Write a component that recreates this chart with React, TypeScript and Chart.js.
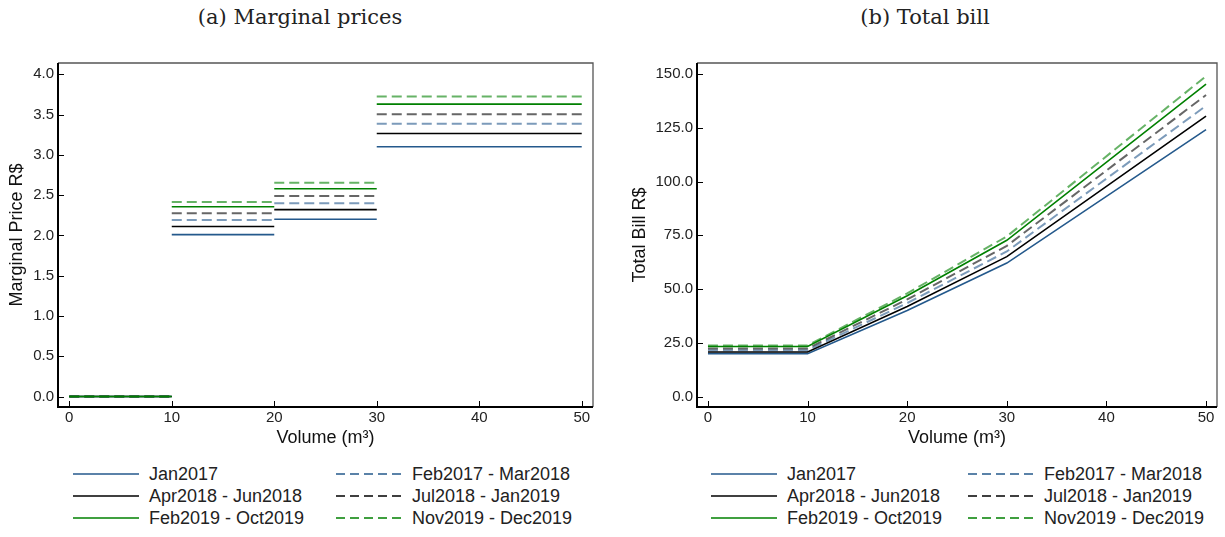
import React, { useEffect, useRef } from "react";
import { Chart, registerables } from "chart.js";

Chart.register(...registerables);

// ---------- data ----------
const seriesNames = [
  "Jan2017",
  "Feb2017 - Mar2018",
  "Apr2018 - Jun2018",
  "Jul2018 - Jan2019",
  "Feb2019 - Oct2019",
  "Nov2019 - Dec2019",
];

// Volume block edges (m³) for the marginal price steps
const blockEdges = [0, 10, 20, 30, 50];

// Marginal price per block (R$/m³)
const priceJan2017 = [0, 2.01, 2.2, 3.1];
const priceFeb2017Mar2018 = [0, 2.19, 2.4, 3.385];
const priceApr2018Jun2018 = [0, 2.11, 2.32, 3.265];
const priceJul2018Jan2019 = [0, 2.275, 2.49, 3.505];
const priceFeb2019Oct2019 = [0, 2.355, 2.58, 3.63];
const priceNov2019Dec2019 = [0, 2.415, 2.655, 3.725];

// Total bill (R$) at these volumes
const billVolumes = [0, 10, 20, 30, 50];
const billJan2017 = [20.0, 20.0, 40.1, 62.1, 124.1];
const billFeb2017Mar2018 = [21.6, 21.6, 43.5, 67.5, 135.2];
const billApr2018Jun2018 = [20.8, 20.8, 41.9, 65.1, 130.4];
const billJul2018Jan2019 = [22.4, 22.4, 45.2, 70.1, 140.2];
const billFeb2019Oct2019 = [23.3, 23.3, 46.9, 72.7, 145.3];
const billNov2019Dec2019 = [23.8, 23.8, 48.0, 74.5, 149.0];

// Tick labels
const volumeTicks = [0, 10, 20, 30, 40, 50];
const priceTicks = [0, 0.5, 1, 1.5, 2, 2.5, 3, 3.5, 4];
const billTicks = [0, 25, 50, 75, 100, 125, 150];

const priceSeries = [
  priceJan2017,
  priceFeb2017Mar2018,
  priceApr2018Jun2018,
  priceJul2018Jan2019,
  priceFeb2019Oct2019,
  priceNov2019Dec2019,
];
const billSeries = [
  billJan2017,
  billFeb2017Mar2018,
  billApr2018Jun2018,
  billJul2018Jan2019,
  billFeb2019Oct2019,
  billNov2019Dec2019,
];

// ---------- styles ----------
const BLUE = "36,89,140";
const BLACK = "0,0,0";
const GREEN = "0,128,0";
const seriesStyle = [
  { rgb: BLUE, dashed: false },
  { rgb: BLUE, dashed: true },
  { rgb: BLACK, dashed: false },
  { rgb: BLACK, dashed: true },
  { rgb: GREEN, dashed: false },
  { rgb: GREEN, dashed: true },
];

const SANS = "'Liberation Sans', Arial, sans-serif";
const SERIF = "'DejaVu Serif', 'Liberation Serif', serif";

function lineColor(i: number) {
  const s = seriesStyle[i];
  return s.dashed ? `rgba(${s.rgb},0.6)` : `rgb(${s.rgb})`;
}

function buildStepData(prices: number[]) {
  const pts: { x: number; y: number | null }[] = [];
  for (let k = 0; k < prices.length; k++) {
    if (k > 0) pts.push({ x: blockEdges[k], y: null });
    pts.push({ x: blockEdges[k], y: prices[k] });
    pts.push({ x: blockEdges[k + 1], y: prices[k] });
  }
  return pts;
}

function buildLineData(values: number[]) {
  return values.map((v, k) => ({ x: billVolumes[k], y: v }));
}

const frameTicksPlugin = {
  id: "frameTicks",
  afterDatasetsDraw(chart: any) {
    const { ctx, chartArea, scales } = chart;
    const { left, right, top, bottom } = chartArea;
    ctx.save();
    ctx.strokeStyle = "#000";
    ctx.lineWidth = 1;
    const len = 6;
    scales.x.ticks.forEach((t: any) => {
      const px = Math.round(scales.x.getPixelForValue(t.value)) + 0.5;
      ctx.beginPath();
      ctx.moveTo(px, bottom);
      ctx.lineTo(px, bottom - len);
      ctx.stroke();
    });
    scales.y.ticks.forEach((t: any) => {
      const py = Math.round(scales.y.getPixelForValue(t.value)) + 0.5;
      ctx.beginPath();
      ctx.moveTo(left, py);
      ctx.lineTo(left + len, py);
      ctx.stroke();
    });
    // frame: top & right thinner gray
    ctx.strokeStyle = "#555";
    ctx.lineWidth = 1.3;
    ctx.beginPath();
    ctx.moveTo(left, top);
    ctx.lineTo(right, top);
    ctx.lineTo(right, bottom);
    ctx.stroke();
    // left & bottom black
    ctx.strokeStyle = "#000";
    ctx.lineWidth = 2;
    ctx.beginPath();
    ctx.moveTo(left, top);
    ctx.lineTo(left, bottom);
    ctx.lineTo(right, bottom);
    ctx.stroke();
    ctx.restore();
  },
};

type PanelProps = {
  datasetsData: { x: number; y: number | null }[][];
  yMin: number;
  yMax: number;
  yTicks: number[];
  yTitle: string;
  yAxisWidth: number;
  yTitlePad: number;
  padRight: number;
};

function Panel(props: PanelProps) {
  const ref = useRef<HTMLCanvasElement | null>(null);
  useEffect(() => {
    if (!ref.current) return;
    const n = props.datasetsData.length;
    const chart = new Chart(ref.current, {
      type: "line",
      data: {
        datasets: props.datasetsData.map((d, i) => ({
          label: seriesNames[i],
          data: d,
          borderColor: lineColor(i),
          backgroundColor: lineColor(i),
          borderWidth: seriesStyle[i].dashed ? 2 : 1.6,
          borderDash: seriesStyle[i].dashed ? [10, 5] : [],
          pointRadius: 0,
          tension: 0,
          spanGaps: false,
          fill: false,
          order: n - i,
        })),
      },
      options: {
        responsive: false,
        animation: false,
        layout: { padding: { left: 0, right: props.padRight, top: 13, bottom: 0 } },
        plugins: { legend: { display: false }, tooltip: { enabled: false } },
        scales: {
          x: {
            type: "linear",
            min: -1.1,
            max: 51.1,
            grid: { display: false, drawTicks: false },
            border: { display: false },
            afterBuildTicks: (s: any) => {
              s.ticks = volumeTicks.map((v) => ({ value: v }));
            },
            afterFit: (s: any) => {
              s.height = 43;
            },
            ticks: {
              padding: 2,
              color: "#222",
              font: { family: SANS, size: 15 },
              maxRotation: 0,
              callback: (v: any) => String(v),
            },
            title: {
              display: true,
              text: "Volume (m³)",
              color: "#111",
              font: { family: SANS, size: 18 },
              padding: { top: 0, bottom: 1 },
            },
          },
          y: {
            type: "linear",
            min: props.yMin,
            max: props.yMax,
            grid: { display: false, drawTicks: false },
            border: { display: false },
            afterBuildTicks: (s: any) => {
              s.ticks = props.yTicks.map((v) => ({ value: v }));
            },
            afterFit: (s: any) => {
              s.width = props.yAxisWidth;
            },
            ticks: {
              padding: 4,
              color: "#222",
              font: { family: SANS, size: 15 },
              callback: (v: any) => Number(v).toFixed(1),
            },
            title: {
              display: true,
              text: props.yTitle,
              color: "#111",
              font: { family: SANS, size: 18 },
              padding: { top: props.yTitlePad, bottom: 0 },
            },
          },
        },
      },
      plugins: [frameTicksPlugin],
    } as any);
    return () => chart.destroy();
  }, []);
  return <canvas ref={ref} width={610} height={400} style={{ display: "block" }} />;
}

function Swatch({ i }: { i: number }) {
  const s = seriesStyle[i];
  return (
    <svg width={66} height={6} style={{ display: "block" }}>
      <line
        x1={0}
        y1={3}
        x2={66}
        y2={3}
        stroke={`rgb(${s.rgb})`}
        strokeWidth={1.5}
        strokeDasharray={s.dashed ? "9 5" : undefined}
      />
    </svg>
  );
}

function Legend({ left, col2 }: { left: number; col2: number }) {
  const layout = [
    [0, 1],
    [2, 3],
    [4, 5],
  ];
  const rowsY = [474, 496, 518];
  const items: any[] = [];
  layout.forEach((row, r) => {
    row.forEach((idx, c) => {
      const x = left + (c === 0 ? 0 : col2);
      items.push(
        <div
          key={idx}
          style={{
            position: "absolute",
            left: x,
            top: rowsY[r] - 11,
            height: 22,
            display: "flex",
            alignItems: "center",
            fontFamily: SANS,
            fontSize: 18,
            color: "#222",
            whiteSpace: "nowrap",
          }}
        >
          <Swatch i={idx} />
          <span style={{ marginLeft: 10 }}>{seriesNames[idx]}</span>
        </div>
      );
    });
  });
  return <>{items}</>;
}

export default function App() {
  useEffect(() => {
    document.body.style.margin = "0";
  }, []);
  const priceData = priceSeries.map(buildStepData);
  const billData = billSeries.map(buildLineData);
  return (
    <div style={{ position: "relative", width: 1225, height: 537, background: "#fff", overflow: "hidden" }}>
      <div
        style={{
          position: "absolute",
          left: 0,
          width: 600,
          top: 5,
          textAlign: "center",
          fontFamily: SERIF,
          fontSize: 21,
          color: "#222",
        }}
      >
        (a) Marginal prices
      </div>
      <div
        style={{
          position: "absolute",
          left: 625,
          width: 600,
          top: 5,
          textAlign: "center",
          fontFamily: SERIF,
          fontSize: 21,
          color: "#222",
        }}
      >
        (b) Total bill
      </div>
      <div style={{ position: "absolute", left: 0, top: 50 }}>
        <Panel
          datasetsData={priceData}
          yMin={-0.13}
          yMax={4.14}
          yTicks={priceTicks}
          yTitle="Marginal Price R$"
          yAxisWidth={58}
          yTitlePad={6}
          padRight={17}
        />
      </div>
      <div style={{ position: "absolute", left: 615, top: 50 }}>
        <Panel
          datasetsData={billData}
          yMin={-4.8}
          yMax={155.1}
          yTicks={billTicks}
          yTitle="Total Bill R$"
          yAxisWidth={82}
          yTitlePad={14}
          padRight={8}
        />
      </div>
      <Legend left={73} col2={263} />
      <Legend left={711} col2={257} />
    </div>
  );
}
